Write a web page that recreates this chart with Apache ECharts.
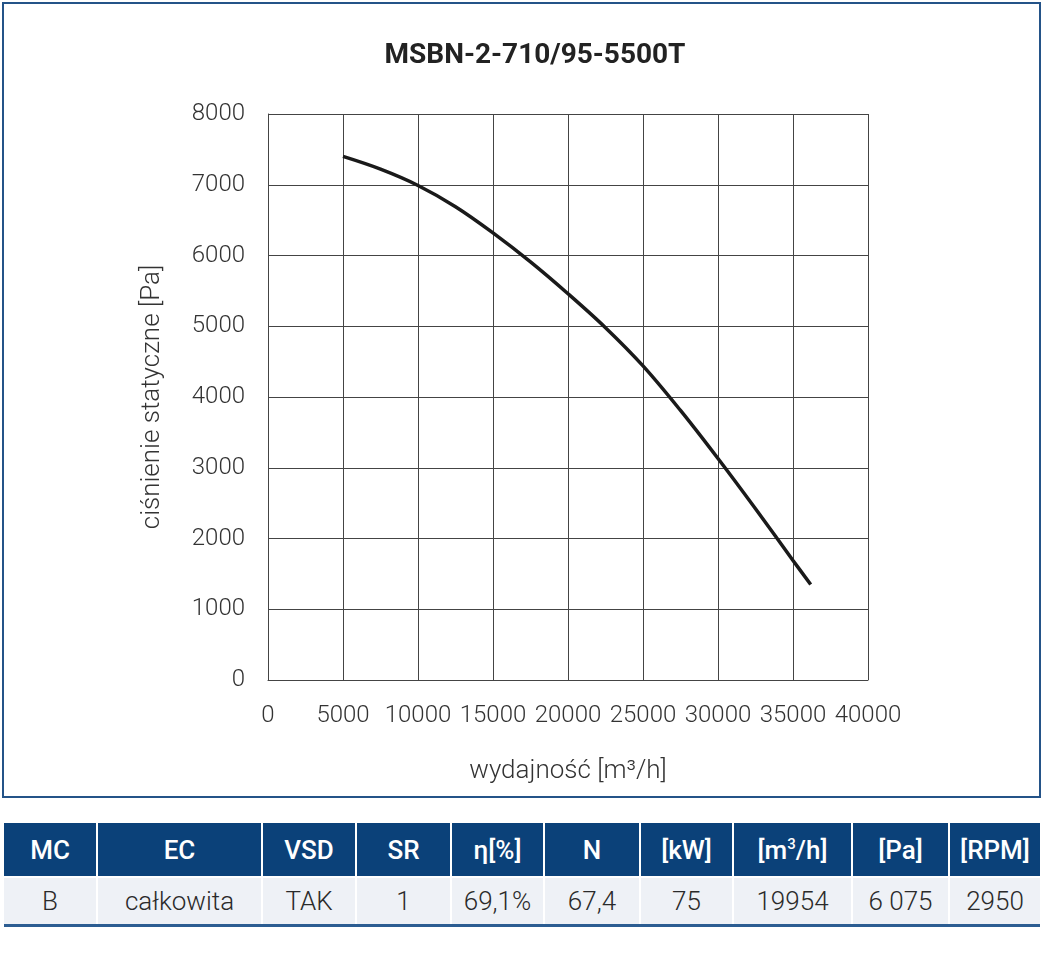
<!DOCTYPE html>
<html>

<head>
    <meta charset="utf-8">
    <title>MSBN-2-710/95-5500T</title>
    <script src="https://cdn.jsdelivr.net/npm/echarts@6/dist/echarts.min.js"></script>
    <style>
        body { margin: 0; background: #fff; font-family: Roboto, "Noto Sans", sans-serif; }
        #main { position: absolute; left: 0; top: 0; width: 1043px; height: 800px; }
        #tab { position: absolute; left: 4px; top: 823px; width: 1036px; border-collapse: collapse; table-layout: fixed; }
        #tab th, #tab td { text-align: center; padding: 0; border-right: 2px solid #fff; font-size: 26px; }
        #tab th:last-child, #tab td:last-child { border-right: none; }
        #tab th { background: #0b4179; color: #fff; font-weight: 500; height: 53px; border-bottom: 2px solid #fff; }
        #tab td { background: #eef1f6; color: #2a2a2a; font-weight: 300; height: 46px; border-bottom: 3px solid #2c5d92; }
        #tab sup { font-size: 15px; }
    </style>
</head>

<body>
    <div id="main"></div>
    <table id="tab"></table>
    <script type="text/javascript">
    // krzywa wentylatora: wydajność [m3/h] i ciśnienie statyczne [Pa]
    var flow = [5000, 7500, 10000, 12500, 15000, 17500, 20000, 22500, 25000, 27500, 30000, 32500, 35000, 36180];
    var pressure = [7400, 7220, 6990, 6690, 6320, 5910, 5460, 4980, 4440, 3810, 3130, 2420, 1690, 1350];

    var tableHead = ['MC', 'EC', 'VSD', 'SR', 'η[%]', 'N', '[kW]', '[m<sup>3</sup>/h]', '[Pa]', '[RPM]'];
    var tableRow = ['B', 'całkowita', 'TAK', '1', '69,1%', '67,4', '75', '19954', '6 075', '2950'];
    var colWidths = [93, 165, 94, 95, 93, 96, 93, 119, 97, 91];

    var tab = document.getElementById('tab');
    var html = '<colgroup>' + colWidths.map(w => '<col style="width:' + w + 'px">').join('') + '</colgroup>';
    html += '<tr>' + tableHead.map(h => '<th>' + h + '</th>').join('') + '</tr>';
    html += '<tr>' + tableRow.map(v => '<td>' + v + '</td>').join('') + '</tr>';
    tab.innerHTML = html;

    var myChart = echarts.init(document.getElementById('main'));
    var labelFont = { fontFamily: 'Roboto', fontWeight: 300, fontSize: 24, color: '#333' };
    var nameFont = { fontFamily: 'Roboto', fontWeight: 300, fontSize: 26, color: '#333' };
    var gridLine = { show: true, lineStyle: { color: '#444', width: 1 } };

    var option = {
        animation: false,
        graphic: [{
            type: 'rect',
            shape: { x: 3, y: 3, width: 1037, height: 794 },
            style: { fill: 'none', stroke: '#245388', lineWidth: 2 }
        }],
        title: {
            text: 'MSBN-2-710/95-5500T',
            left: 530,
            textAlign: 'center',
            top: 37,
            textStyle: { fontFamily: 'Roboto', fontWeight: 'bold', fontSize: 28, color: '#222' }
        },
        grid: { left: 268, top: 114, width: 600, height: 566 },
        xAxis: {
            type: 'value',
            min: 0,
            max: 40000,
            interval: 5000,
            name: 'wydajność [m³/h]',
            nameLocation: 'middle',
            nameGap: 78,
            nameTextStyle: nameFont,
            axisLine: { lineStyle: { color: '#444', width: 1 } },
            axisTick: { show: false },
            axisLabel: Object.assign({ margin: 24, formatter: v => String(v) }, labelFont),
            splitLine: gridLine
        },
        yAxis: {
            type: 'value',
            min: 0,
            max: 8000,
            interval: 1000,
            name: 'ciśnienie statyczne [Pa]',
            nameLocation: 'middle',
            nameGap: 103,
            nameTextStyle: nameFont,
            axisLine: { show: true, lineStyle: { color: '#444', width: 1 } },
            axisTick: { show: false },
            axisLabel: Object.assign({ margin: 23, formatter: v => String(v) }, labelFont),
            splitLine: gridLine
        },
        series: [{
            type: 'line',
            data: flow.map((x, i) => [x, pressure[i]]),
            smooth: 0.35,
            showSymbol: false,
            lineStyle: { color: '#1a1a1a', width: 3.5 }
        }]
    };

    myChart.setOption(option);
    </script>
</body>

</html>
